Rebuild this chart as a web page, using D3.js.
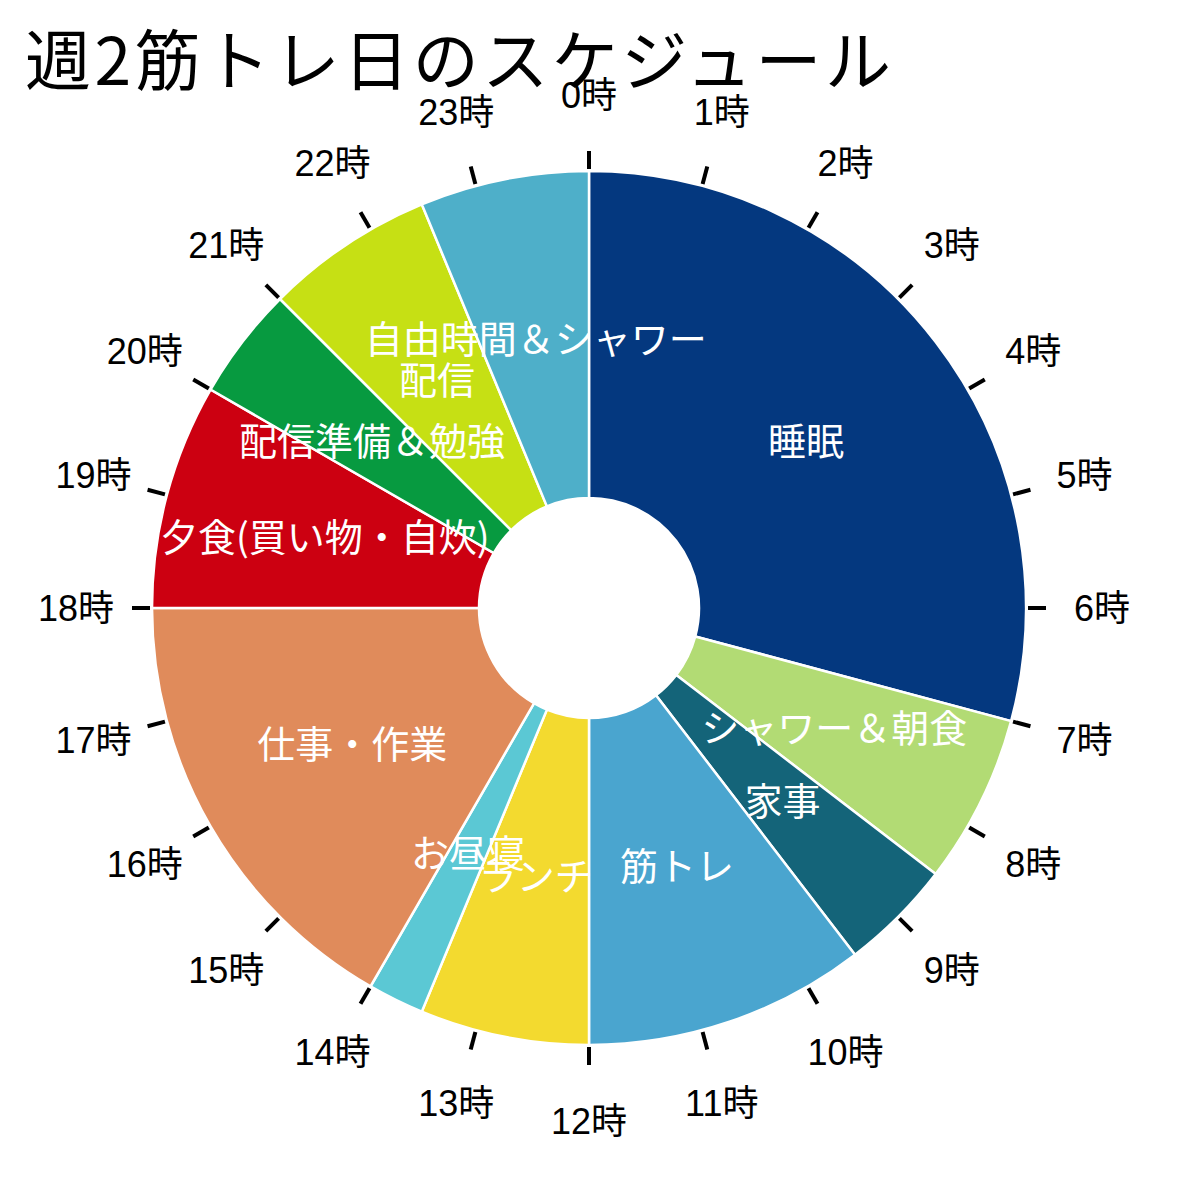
<!DOCTYPE html>
<html>
<head>
<meta charset="utf-8">
<script src="https://cdn.jsdelivr.net/npm/d3@7"></script>
<style>
	body { margin: 0; background: #fff; }
	svg { display: block; }
</style>
</head>
<body>
<script>
//data
const categories = ["睡眠", "シャワー＆朝食", "家事", "筋トレ", "ランチ", "お昼寝", "仕事・作業", "夕食(買い物・自炊)", "配信準備＆勉強", "配信", "自由時間＆シャワー"];
const hours = [7, 1.5, 1, 2.5, 1.5, 0.5, 4, 2, 1, 1.5, 1.5];
const colors = ["#04387f", "#b2db74", "#146479", "#4aa5cf", "#f3da2f", "#5bc8d4", "#e08b5b", "#cc0011", "#079a40", "#c6e014", "#4eafc9"];
const hourLabels = ["0時", "1時", "2時", "3時", "4時", "5時", "6時", "7時", "8時", "9時", "10時", "11時",
	"12時", "13時", "14時", "15時", "16時", "17時", "18時", "19時", "20時", "21時", "22時", "23時"];

const width = 1179, height = 1187;
const cx = 589, cy = 608;
const outerR = 437, innerR = 110;

const svg = d3.select("body")
	.append("svg")
	.attr("width", width)
	.attr("height", height);

//title
svg.append("text")
	.attr("x", 25)
	.attr("y", 85)
	.attr("font-family", "'Noto Sans CJK JP', sans-serif")
	.attr("font-size", 66)
	.attr("letter-spacing", 3.5)
	.attr("fill", "#000")
	.text("週2筋トレ日のスケジュール");

const g = svg.append("g")
	.attr("transform", "translate(" + cx + "," + cy + ")");

//clock scale
const angle = d3.scaleLinear().domain([0, 24]).range([0, 2 * Math.PI]);

const table = categories.map(function(c, i) {
	return {name: c, hours: hours[i], color: colors[i]};
});

const pie = d3.pie()
	.sort(null)
	.value(function(d) { return d.hours; })
	.startAngle(angle(0))
	.endAngle(angle(24));

const arc = d3.arc().innerRadius(innerR).outerRadius(outerR);

const slices = pie(table);

g.selectAll("path.slice")
	.data(slices)
	.enter().append("path")
	.attr("class", "slice")
	.attr("d", arc)
	.attr("fill", function(d) { return d.data.color; })
	.attr("stroke", "#fff")
	.attr("stroke-width", 2.5);

//hour ticks
g.selectAll("line.tick")
	.data(hourLabels)
	.enter().append("line")
	.attr("class", "tick")
	.attr("x1", function(d, i) { return Math.sin(angle(i)) * (outerR + 2); })
	.attr("y1", function(d, i) { return -Math.cos(angle(i)) * (outerR + 2); })
	.attr("x2", function(d, i) { return Math.sin(angle(i)) * (outerR + 20); })
	.attr("y2", function(d, i) { return -Math.cos(angle(i)) * (outerR + 20); })
	.attr("stroke", "#000")
	.attr("stroke-width", 4);

//hour labels
g.selectAll("text.hour")
	.data(hourLabels)
	.enter().append("text")
	.attr("class", "hour")
	.attr("x", function(d, i) { return Math.sin(angle(i)) * 513; })
	.attr("y", function(d, i) { return -Math.cos(angle(i)) * 513; })
	.attr("text-anchor", "middle")
	.attr("dominant-baseline", "central")
	.attr("font-family", "'Liberation Sans', 'Noto Sans CJK JP', sans-serif")
	.attr("font-size", 36)
	.attr("fill", "#000")
	.text(function(d) { return d; });

//slice labels
g.selectAll("text.label")
	.data(slices)
	.enter().append("text")
	.attr("class", "label")
	.attr("transform", function(d) { return "translate(" + arc.centroid(d) + ")"; })
	.attr("dy", -3)
	.attr("text-anchor", "middle")
	.attr("dominant-baseline", "central")
	.attr("font-family", "'Noto Sans CJK JP', sans-serif")
	.attr("font-size", 38)
	.attr("fill", "#fff")
	.text(function(d) { return d.data.name; });
</script>
</body>
</html>
